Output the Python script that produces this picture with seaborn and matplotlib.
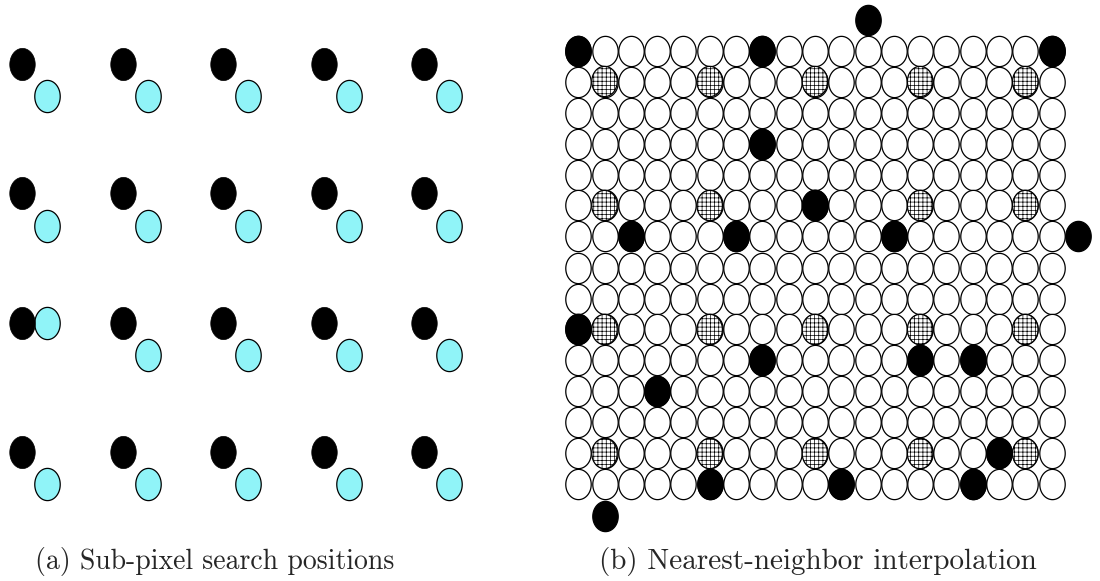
import numpy as np
import pandas as pd
import matplotlib
matplotlib.use("Agg")
import matplotlib.pyplot as plt
from matplotlib.path import Path
import seaborn as sns

sns.set_theme(style="white")
plt.rcParams["font.family"] = ["cmr10", "DejaVu Serif"]
plt.rcParams["axes.formatter.use_mathtext"] = True
plt.rcParams["hatch.linewidth"] = 0.5

# ---- (a) integer-pixel positions and their sub-pixel search offsets ----
pix_cols = [0, 1, 2, 3, 4] * 4
pix_rows = [0] * 5 + [1] * 5 + [2] * 5 + [3] * 5
sub_dx = [0.25] * 20
sub_dy = [0.25] * 10 + [0.0] + [0.25] * 9

# ---- (b) nearest-neighbour grid ----
grid_cols = 19
grid_rows = 15
hatch_cols = [1, 5, 9, 13, 17]
hatch_rows = [1, 5, 9, 13]
black_cols = [0, 7, 18, 11, 7, 9, 2, 6, 12, 19, 0, 7, 13, 15, 3, 16, 5, 10, 15, 1]
black_rows = [0, 0, 0, -1, 3, 5, 6, 6, 6, 6, 9, 10, 10, 10, 11, 13, 14, 14, 14, 15]

captions = ["(a) Sub-pixel search positions", "(b) Nearest-neighbor interpolation"]

CYAN = "#90F4F8"


def ellipse_marker(ratio):
    t = np.linspace(0, 2 * np.pi, 73)
    verts = np.column_stack([ratio * np.cos(t), np.sin(t)])
    return Path(verts, closed=True)


W, H, DPI = 1100, 581, 100
fig = plt.figure(figsize=(W / DPI, H / DPI), dpi=DPI)
fig.patch.set_facecolor("white")


def add_axes_px(x0, x1, y0, y1):
    return fig.add_axes([x0 / W, 1 - y1 / H, (x1 - x0) / W, (y1 - y0) / H])


# panel (a): column pitch 100.5 px, row pitch 129.3 px
ax_a = add_axes_px(22 - 0.2 * 100.5, 22 + 4.5 * 100.5, 64 - 0.35 * 129.3, 64 + 3.6 * 129.3)
ax_a.set_xlim(-0.2, 4.5)
ax_a.set_ylim(3.6, -0.35)

df_a = pd.DataFrame({"col": pix_cols, "row": pix_rows, "dx": sub_dx, "dy": sub_dy})
df_a["sx"] = df_a["col"] + df_a["dx"]
df_a["sy"] = df_a["row"] + df_a["dy"]

mk_a = ellipse_marker(0.79)
size_a = 23.2 ** 2
sns.scatterplot(data=df_a, x="sx", y="sy", marker=mk_a, s=size_a, color=CYAN,
                edgecolor="black", linewidth=0.9, ax=ax_a, zorder=2)
sns.scatterplot(data=df_a, x="col", y="row", marker=mk_a, s=size_a, color="black",
                edgecolor="black", linewidth=0.5, ax=ax_a, zorder=3)

# panel (b): column pitch 26.3 px, row pitch 31 px
cx0, cy0, pw, ph = 578.2, 50.5, 26.3, 31.0
ax_b = add_axes_px(cx0 - 0.6 * pw, cx0 + 19.6 * pw, cy0 - 1.6 * ph, cy0 + 15.6 * ph)
ax_b.set_xlim(-0.6, 19.6)
ax_b.set_ylim(15.6, -1.6)

cc, rr = np.meshgrid(np.arange(grid_cols), np.arange(grid_rows))
df_grid = pd.DataFrame({"col": cc.ravel(), "row": rr.ravel()})
hc, hr = np.meshgrid(hatch_cols, hatch_rows)
df_hatch = pd.DataFrame({"col": hc.ravel(), "row": hr.ravel()})
df_black = pd.DataFrame({"col": black_cols, "row": black_rows})

mk_b = ellipse_marker(0.84)
size_b = 21.8 ** 2
sns.scatterplot(data=df_grid, x="col", y="row", marker=mk_b, s=size_b, color="white",
                edgecolor="black", linewidth=0.9, ax=ax_b, zorder=2)
sns.scatterplot(data=df_hatch, x="col", y="row", marker=mk_b, s=size_b, color="white",
                edgecolor="black", linewidth=0.9, hatch="++++", ax=ax_b, zorder=3)
sns.scatterplot(data=df_black, x="col", y="row", marker=mk_b, s=size_b, color="black",
                edgecolor="black", linewidth=0.9, ax=ax_b, zorder=4)

for ax in (ax_a, ax_b):
    ax.set_axis_off()
    ax.set_xlabel("")
    ax.set_ylabel("")

fig.text(215 / W, 1 - 561 / H, captions[0], ha="center", va="center", fontsize=20)
fig.text(818 / W, 1 - 561 / H, captions[1], ha="center", va="center", fontsize=21)

fig.savefig("out.png", dpi=DPI, facecolor="white")
